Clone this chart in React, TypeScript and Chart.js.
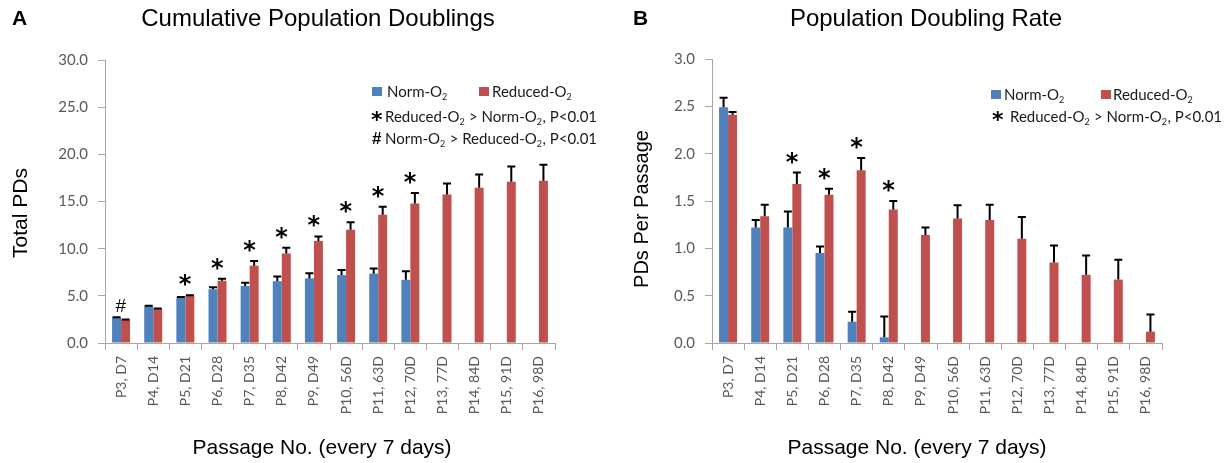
import React, { useEffect, useRef } from 'react';
import { Chart, registerables } from 'chart.js';

Chart.register(...registerables);

// ---------- data ----------
const categories = [
  'P3, D7', 'P4, D14', 'P5, D21', 'P6, D28', 'P7, D35', 'P8, D42', 'P9, D49',
  'P10, 56D', 'P11, 63D', 'P12, 70D', 'P13, 77D', 'P14, 84D', 'P15, 91D', 'P16, 98D',
];

// Panel A: cumulative population doublings
const cumNorm = [2.7, 3.9, 4.8, 5.7, 6.05, 6.55, 6.85, 7.2, 7.35, 6.7, null, null, null, null];
const cumNormErr = [0.04, 0.05, 0.08, 0.2, 0.35, 0.5, 0.55, 0.55, 0.55, 0.9, null, null, null, null];
const cumReduced = [2.45, 3.6, 5.0, 6.6, 8.2, 9.5, 10.8, 12.0, 13.6, 14.8, 15.75, 16.45, 17.1, 17.2];
const cumReducedErr = [0.04, 0.05, 0.06, 0.2, 0.5, 0.6, 0.5, 0.8, 0.85, 1.1, 1.15, 1.4, 1.6, 1.7];
const cumMarks = ['#', '', '*', '*', '*', '*', '*', '*', '*', '*', '', '', '', ''];
const cumAxisMax = 30;
const cumAxisStep = 5;

// Panel B: population doubling rate
const rateNorm = [2.49, 1.22, 1.22, 0.95, 0.225, 0.06, null, null, null, null, null, null, null, null];
const rateNormErr = [0.1, 0.08, 0.17, 0.07, 0.105, 0.22, null, null, null, null, null, null, null, null];
const rateReduced = [2.41, 1.34, 1.68, 1.565, 1.825, 1.41, 1.14, 1.315, 1.3, 1.1, 0.85, 0.72, 0.67, 0.12];
const rateReducedErr = [0.03, 0.12, 0.12, 0.065, 0.13, 0.09, 0.08, 0.14, 0.16, 0.23, 0.18, 0.205, 0.21, 0.18];
const rateMarks = ['', '', '*', '*', '*', '*', '', '', '', '', '', '', '', ''];
const rateAxisMax = 3;
const rateAxisStep = 0.5;

const seriesNames = ['Norm-O₂', 'Reduced-O₂'];

// ---------- style ----------
const BLUE = '#4F81BD';
const RED = '#C0504D';
const AXIS = '#a6a6a6';
const TICK = '#595959';
const SANS = '"Liberation Sans", Arial, sans-serif';
const LABEL = 'Lato, "Open Sans", sans-serif';
const SYMBOL = '"DejaVu Sans", sans-serif';
const W_A = 612;
const W_B = 613;
const H = 463;

type Panel = {
  letter: string;
  title: string;
  yTitle: string;
  xTitle: string;
  norm: (number | null)[];
  normErr: (number | null)[];
  reduced: (number | null)[];
  reducedErr: (number | null)[];
  marks: string[];
  yMax: number;
  yStep: number;
  notes: { sym: string; text: string }[];
  left: number;
  width: number;
  geo: any;
};

const panels: Panel[] = [
  {
    letter: 'A',
    title: 'Cumulative Population Doublings',
    yTitle: 'Total PDs',
    xTitle: 'Passage No. (every 7 days)',
    norm: cumNorm,
    normErr: cumNormErr,
    reduced: cumReduced,
    reducedErr: cumReducedErr,
    marks: cumMarks,
    yMax: cumAxisMax,
    yStep: cumAxisStep,
    notes: [
      { sym: '*', text: 'Reduced-O₂ > Norm-O₂, P<0.01' },
      { sym: '#', text: 'Norm-O₂ > Reduced-O₂, P<0.01' },
    ],
    left: 0,
    width: W_A,
    geo: {
      areaLeft: 105, areaRight: 555, areaTop: 60, areaBottom: 343,
      letterX: 12, titleX: 318, titleY: 19,
      yTitleX: 21, yTitleY: 213, yTitleSize: 21,
      xTitleX: 322, xTitleY: 448,
      leg: { sq1: 372, t1: 387, sq2: 479, t2: 492, y1: 97, symX: 377, textX: 385, lines: [122, 144] },
    },
  },
  {
    letter: 'B',
    title: 'Population Doubling Rate',
    yTitle: 'PDs Per Passage',
    xTitle: 'Passage No. (every 7 days)',
    norm: rateNorm,
    normErr: rateNormErr,
    reduced: rateReduced,
    reducedErr: rateReducedErr,
    marks: rateMarks,
    yMax: rateAxisMax,
    yStep: rateAxisStep,
    notes: [{ sym: '*', text: 'Reduced-O₂ > Norm-O₂, P<0.01' }],
    left: W_A,
    width: W_B,
    geo: {
      areaLeft: 100, areaRight: 550, areaTop: 59, areaBottom: 343,
      letterX: 21, titleX: 314, titleY: 19,
      yTitleX: 30, yTitleY: 209, yTitleSize: 20,
      xTitleX: 305, xTitleY: 448,
      leg: { sq1: 379, t1: 392, sq2: 489, t2: 501, y1: 100, symX: 386, textX: 398, lines: [122] },
    },
  },
];

// draw text where "₂" is rendered as a subscript 2
function drawRich(ctx: CanvasRenderingContext2D, text: string, x: number, y: number, size: number) {
  const parts = text.split('₂');
  let cx = x;
  parts.forEach((part, i) => {
    ctx.font = `${size}px ${LABEL}`;
    ctx.fillText(part, cx, y);
    cx += ctx.measureText(part).width;
    if (i < parts.length - 1) {
      ctx.font = `${Math.round(size * 0.62)}px ${LABEL}`;
      ctx.fillText('2', cx, y + size * 0.22);
      cx += ctx.measureText('2').width + 0.5;
    }
  });
}

function drawCentered(ctx: CanvasRenderingContext2D, s: string, cx: number, cy: number, font: string) {
  ctx.font = font;
  const m = ctx.measureText(s);
  const w = m.actualBoundingBoxRight + m.actualBoundingBoxLeft;
  const h = m.actualBoundingBoxAscent + m.actualBoundingBoxDescent;
  ctx.textAlign = 'left';
  ctx.textBaseline = 'alphabetic';
  ctx.fillText(s, cx - w / 2 + m.actualBoundingBoxLeft, cy + h / 2 - m.actualBoundingBoxDescent);
}

const errorBarPlugin = {
  id: 'errorBars',
  afterDatasetsDraw(chart: any, _args: any, opts: any) {
    const ctx: CanvasRenderingContext2D = chart.ctx;
    const yScale = chart.scales.y;
    const xScale = chart.scales.x;
    const tops: number[] = [];
    ctx.save();
    ctx.strokeStyle = '#000';
    ctx.lineWidth = 2;
    chart.data.datasets.forEach((ds: any, i: number) => {
      const meta = chart.getDatasetMeta(i);
      meta.data.forEach((bar: any, j: number) => {
        const v = ds.data[j];
        if (v == null) return;
        const e = ds.errors ? ds.errors[j] : null;
        const top = e != null ? yScale.getPixelForValue(v + e) : bar.y;
        tops[j] = Math.min(tops[j] ?? Infinity, top);
        if (e == null) return;
        ctx.beginPath();
        ctx.moveTo(bar.x, bar.y);
        ctx.lineTo(bar.x, top);
        ctx.moveTo(bar.x - 4, top);
        ctx.lineTo(bar.x + 4, top);
        ctx.stroke();
      });
    });
    ctx.fillStyle = '#000';
    (opts.marks || []).forEach((m: string, j: number) => {
      if (!m) return;
      const cx = xScale.getPixelForValue(j);
      if (m === '*') {
        drawCentered(ctx, '*', cx, tops[j] - 15, `bold 24px ${SYMBOL}`);
      } else {
        drawCentered(ctx, m, cx, tops[j] - 12, `19px ${SANS}`);
      }
    });
    ctx.restore();
  },
};

function makeTextPlugin(p: Panel) {
  const g = p.geo;
  return {
    id: 'panelText',
    afterDraw(chart: any) {
      const ctx: CanvasRenderingContext2D = chart.ctx;
      ctx.save();
      ctx.fillStyle = '#000';
      ctx.textBaseline = 'middle';
      ctx.textAlign = 'left';
      ctx.font = `bold 21px ${SANS}`;
      ctx.fillText(p.letter, g.letterX, g.titleY);
      ctx.textAlign = 'center';
      ctx.font = `24px ${SANS}`;
      ctx.fillText(p.title, g.titleX, g.titleY);
      ctx.font = `21px ${SANS}`;
      ctx.fillText(p.xTitle, g.xTitleX, g.xTitleY);
      ctx.save();
      ctx.translate(g.yTitleX, g.yTitleY);
      ctx.rotate(-Math.PI / 2);
      ctx.font = `${g.yTitleSize}px ${SANS}`;
      ctx.fillText(p.yTitle, 0, 0);
      ctx.restore();

      // legend
      const L = g.leg;
      ctx.textAlign = 'left';
      ctx.textBaseline = 'alphabetic';
      ctx.fillStyle = BLUE;
      ctx.fillRect(L.sq1, L.y1 - 10, 10, 9);
      ctx.fillStyle = RED;
      ctx.fillRect(L.sq2, L.y1 - 10, 10, 9);
      ctx.fillStyle = '#1a1a1a';
      drawRich(ctx, seriesNames[0], L.t1, L.y1, 15);
      drawRich(ctx, seriesNames[1], L.t2, L.y1, 15);
      p.notes.forEach((n, k) => {
        const y = L.lines[k];
        ctx.fillStyle = '#000';
        if (n.sym === '*') drawCentered(ctx, '*', L.symX, y - 6, `bold 22px ${SYMBOL}`);
        else drawCentered(ctx, n.sym, L.symX, y - 6, `bold 17px ${SANS}`);
        ctx.fillStyle = '#1a1a1a';
        ctx.textAlign = 'left';
        ctx.textBaseline = 'alphabetic';
        drawRich(ctx, n.text, L.textX, y, 15);
      });
      ctx.restore();
    },
  };
}

function PanelChart({ p }: { p: Panel }) {
  const ref = useRef<HTMLCanvasElement>(null);
  useEffect(() => {
    if (!ref.current) return;
    const g = p.geo;
    const chart = new Chart(ref.current, {
      type: 'bar',
      data: {
        labels: categories,
        datasets: [
          {
            label: seriesNames[0],
            data: p.norm,
            errors: p.normErr,
            backgroundColor: BLUE,
            categoryPercentage: 0.56,
            barPercentage: 1,
          } as any,
          {
            label: seriesNames[1],
            data: p.reduced,
            errors: p.reducedErr,
            backgroundColor: RED,
            categoryPercentage: 0.56,
            barPercentage: 1,
          } as any,
        ],
      },
      options: {
        animation: false,
        responsive: false,
        devicePixelRatio: 1,
        layout: { padding: { top: g.areaTop, right: p.width - g.areaRight, left: 0, bottom: 0 } },
        plugins: {
          legend: { display: false },
          tooltip: { enabled: false },
          title: { display: false },
          errorBars: { marks: p.marks },
        } as any,
        scales: {
          x: {
            grid: { offset: true, drawOnChartArea: false, drawTicks: true, tickLength: 7, color: AXIS },
            border: { display: true, color: AXIS },
            ticks: {
              autoSkip: false,
              maxRotation: 90,
              minRotation: 90,
              padding: 6,
              color: TICK,
              font: { family: LABEL, size: 14 },
            },
            afterFit: (s: any) => {
              s.height = H - g.areaBottom;
              s.paddingLeft = 0;
              s.paddingRight = 0;
            },
          },
          y: {
            min: 0,
            max: p.yMax,
            grid: { drawOnChartArea: false, drawTicks: true, tickLength: 7, color: AXIS },
            border: { display: true, color: AXIS },
            ticks: {
              stepSize: p.yStep,
              padding: 10,
              color: TICK,
              font: { family: LABEL, size: 15 },
              callback: (v: any) => Number(v).toFixed(1),
            },
            afterFit: (s: any) => {
              s.width = g.areaLeft;
              s.paddingTop = 0;
              s.paddingBottom = 0;
            },
          },
        },
      } as any,
      plugins: [errorBarPlugin, makeTextPlugin(p)],
    });
    return () => chart.destroy();
  }, [p]);
  return (
    <canvas
      ref={ref}
      width={p.width}
      height={H}
      style={{ position: 'absolute', left: p.left, top: 0, width: p.width, height: H, display: 'block' }}
    />
  );
}

export default function App() {
  return (
    <div style={{ position: 'absolute', left: 0, top: 0, width: 1225, height: H, background: '#fff', overflow: 'hidden' }}>
      {panels.map((p) => (
        <PanelChart key={p.letter} p={p} />
      ))}
    </div>
  );
}
